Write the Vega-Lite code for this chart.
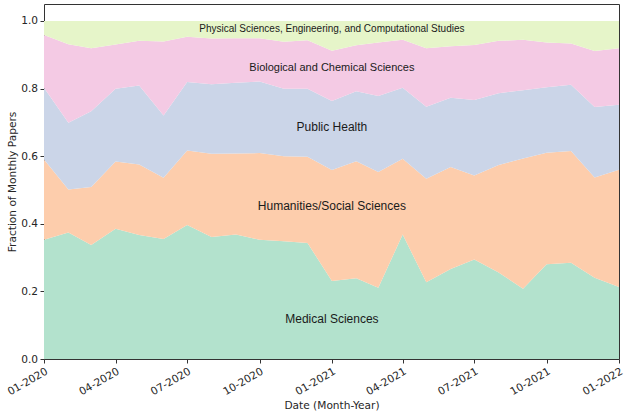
{
  "$schema": "https://vega.github.io/schema/vega-lite/v6.json",
  "width": 575,
  "height": 355,
  "autosize": "none",
  "padding": {"left": 44, "top": 4, "right": 6, "bottom": 55},
  "background": "white",
  "config": {
    "view": {"stroke": "#333333", "strokeWidth": 1},
    "axis": {
      "labelFont": "DejaVu Sans",
      "labelFontSize": 10.6,
      "labelColor": "#262626",
      "titleFont": "DejaVu Sans",
      "titleFontSize": 10.6,
      "titleFontWeight": "normal",
      "titleColor": "#262626",
      "tickColor": "#333333",
      "tickSize": 4,
      "domain": false,
      "grid": false
    }
  },
  "datasets": {
    "papers": [
      {"d": "2020-01-01", "med": 0.353, "hum": 0.237, "ph": 0.212, "bio": 0.156, "phys": 0.042},
      {"d": "2020-02-01", "med": 0.374, "hum": 0.127, "ph": 0.198, "bio": 0.232, "phys": 0.069},
      {"d": "2020-03-01", "med": 0.337, "hum": 0.172, "ph": 0.224, "bio": 0.186, "phys": 0.081},
      {"d": "2020-04-01", "med": 0.385, "hum": 0.199, "ph": 0.215, "bio": 0.131, "phys": 0.070},
      {"d": "2020-05-01", "med": 0.367, "hum": 0.208, "ph": 0.234, "bio": 0.132, "phys": 0.059},
      {"d": "2020-06-01", "med": 0.355, "hum": 0.181, "ph": 0.184, "bio": 0.219, "phys": 0.061},
      {"d": "2020-07-01", "med": 0.396, "hum": 0.221, "ph": 0.202, "bio": 0.134, "phys": 0.047},
      {"d": "2020-08-01", "med": 0.361, "hum": 0.246, "ph": 0.206, "bio": 0.135, "phys": 0.052},
      {"d": "2020-09-01", "med": 0.368, "hum": 0.240, "ph": 0.209, "bio": 0.132, "phys": 0.051},
      {"d": "2020-10-01", "med": 0.353, "hum": 0.256, "ph": 0.212, "bio": 0.128, "phys": 0.051},
      {"d": "2020-11-01", "med": 0.348, "hum": 0.252, "ph": 0.199, "bio": 0.139, "phys": 0.062},
      {"d": "2020-12-01", "med": 0.343, "hum": 0.255, "ph": 0.201, "bio": 0.144, "phys": 0.057},
      {"d": "2021-01-01", "med": 0.231, "hum": 0.328, "ph": 0.204, "bio": 0.149, "phys": 0.088},
      {"d": "2021-02-01", "med": 0.239, "hum": 0.346, "ph": 0.207, "bio": 0.136, "phys": 0.072},
      {"d": "2021-03-01", "med": 0.211, "hum": 0.342, "ph": 0.225, "bio": 0.158, "phys": 0.064},
      {"d": "2021-04-01", "med": 0.368, "hum": 0.224, "ph": 0.210, "bio": 0.142, "phys": 0.056},
      {"d": "2021-05-01", "med": 0.227, "hum": 0.306, "ph": 0.213, "bio": 0.173, "phys": 0.081},
      {"d": "2021-06-01", "med": 0.266, "hum": 0.302, "ph": 0.205, "bio": 0.152, "phys": 0.075},
      {"d": "2021-07-01", "med": 0.294, "hum": 0.249, "ph": 0.223, "bio": 0.163, "phys": 0.071},
      {"d": "2021-08-01", "med": 0.256, "hum": 0.318, "ph": 0.212, "bio": 0.155, "phys": 0.059},
      {"d": "2021-09-01", "med": 0.208, "hum": 0.385, "ph": 0.202, "bio": 0.149, "phys": 0.056},
      {"d": "2021-10-01", "med": 0.280, "hum": 0.330, "ph": 0.194, "bio": 0.132, "phys": 0.064},
      {"d": "2021-11-01", "med": 0.285, "hum": 0.330, "ph": 0.196, "bio": 0.122, "phys": 0.067},
      {"d": "2021-12-01", "med": 0.240, "hum": 0.297, "ph": 0.208, "bio": 0.166, "phys": 0.089},
      {"d": "2022-01-01", "med": 0.213, "hum": 0.347, "ph": 0.192, "bio": 0.167, "phys": 0.081}
    ],
    "labels": [
      {"d": "2021-01-01", "y": 0.119, "t": "Medical Sciences"},
      {"d": "2021-01-01", "y": 0.452, "t": "Humanities/Social Sciences"},
      {"d": "2021-01-01", "y": 0.686, "t": "Public Health"},
      {"d": "2021-01-01", "y": 0.860, "t": "Biological and Chemical Sciences"},
      {"d": "2021-01-01", "y": 0.975, "t": "Physical Sciences, Engineering, and Computational Studies"}
    ]
  },
  "layer": [
    {
      "data": {"name": "papers"},
      "transform": [
        {"fold": ["med", "hum", "ph", "bio", "phys"], "as": ["cat", "frac"]},
        {"calculate": "indexof(['med','hum','ph','bio','phys'], datum.cat)", "as": "rank"}
      ],
      "mark": {"type": "area", "interpolate": "linear", "opacity": 1},
      "encoding": {
        "x": {
          "field": "d",
          "type": "temporal",
          "scale": {"type": "utc", "nice": false, "domain": [{"year": 2020, "month": 1, "date": 1, "utc": true}, {"year": 2022, "month": 1, "date": 1, "utc": true}]},
          "axis": {
            "title": "Date (Month-Year)",
            "values": [
              {"year": 2020, "month": 1, "date": 1, "utc": true},
              {"year": 2020, "month": 4, "date": 1, "utc": true},
              {"year": 2020, "month": 7, "date": 1, "utc": true},
              {"year": 2020, "month": 10, "date": 1, "utc": true},
              {"year": 2021, "month": 1, "date": 1, "utc": true},
              {"year": 2021, "month": 4, "date": 1, "utc": true},
              {"year": 2021, "month": 7, "date": 1, "utc": true},
              {"year": 2021, "month": 10, "date": 1, "utc": true},
              {"year": 2022, "month": 1, "date": 1, "utc": true}
            ],
            "labelExpr": "utcFormat(datum.value, '%m-%Y')",
            "labelAngle": -30,
            "labelAlign": "right",
            "labelBaseline": "top",
            "labelPadding": 3,
            "labelOverlap": false,
            "labelFlush": false,
            "titlePadding": 3
          }
        },
        "y": {
          "field": "frac",
          "type": "quantitative",
          "stack": "zero",
          "scale": {"domain": [0, 1.05], "nice": false, "zero": true},
          "axis": {
            "title": "Fraction of Monthly Papers",
            "values": [0, 0.2, 0.4, 0.6, 0.8, 1.0],
            "format": ".1f",
            "labelPadding": 2.5,
            "titlePadding": 3
          }
        },
        "color": {
          "field": "cat",
          "type": "nominal",
          "scale": {"domain": ["med", "hum", "ph", "bio", "phys"], "range": ["#b3e2cd", "#fdcdac", "#cbd5e8", "#f4cae4", "#e6f5c9"]},
          "legend": null
        },
        "order": {"field": "rank", "type": "quantitative"}
      }
    },
    {
      "data": {"name": "labels"},
      "mark": {"type": "text", "font": "Liberation Sans", "color": "#1a1a1a", "align": "center", "baseline": "middle"},
      "encoding": {
        "x": {"field": "d", "type": "temporal"},
        "y": {"field": "y", "type": "quantitative"},
        "text": {"field": "t"},
        "size": {
          "condition": [
            {"test": "datum.t == 'Physical Sciences, Engineering, and Computational Studies'", "value": 10},
            {"test": "datum.t == 'Biological and Chemical Sciences'", "value": 11}
          ],
          "value": 12
        }
      }
    }
  ]
}
